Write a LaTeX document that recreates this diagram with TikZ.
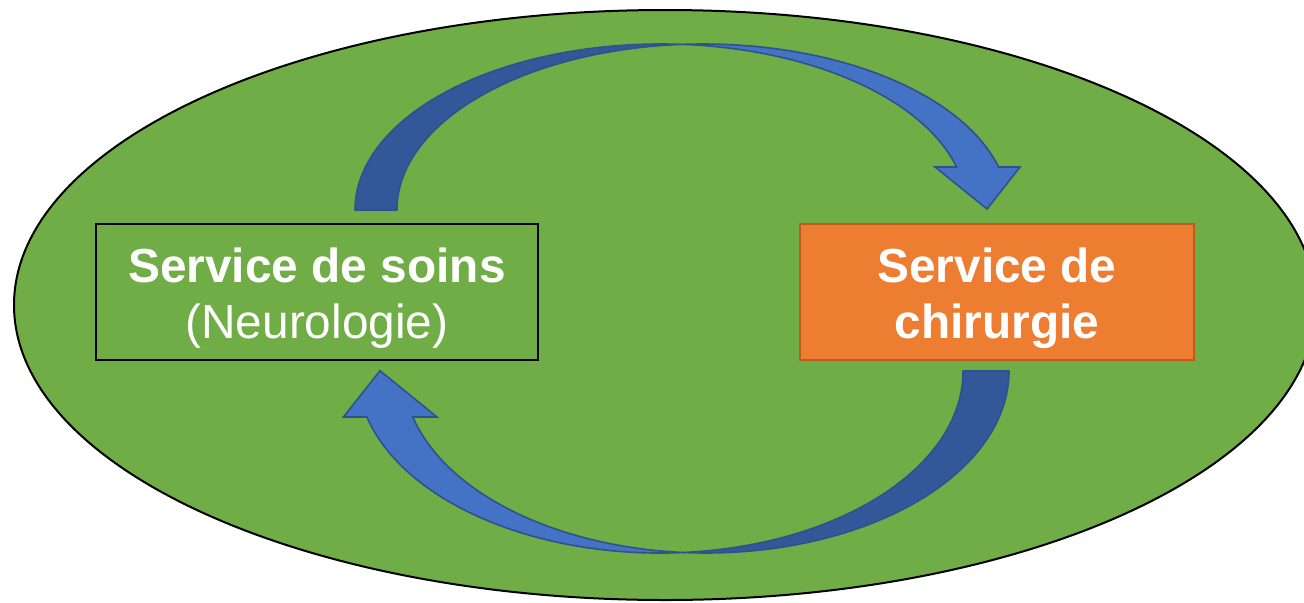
\documentclass[tikz,border=0pt]{standalone}
\usepackage{fontspec}
\setmainfont{Liberation Sans}
\usetikzlibrary{positioning}
\definecolor{fieldgreen}{RGB}{112,173,71}
\definecolor{surgorange}{RGB}{237,125,49}
\definecolor{surgedge}{RGB}{190,90,30}
\definecolor{flowlight}{RGB}{68,114,196}
\definecolor{flowdark}{RGB}{50,88,153}
\definecolor{flowedge}{RGB}{47,82,143}

\begin{document}
\begin{tikzpicture}
  [x=0.5pt,y=0.5pt,
  servicebox/.style={rectangle,inner sep=0pt,minimum height=68pt},
  soinsbox/.style={servicebox,draw=black,line width=1pt,fill=fieldgreen,minimum width=221pt},
  chirbox/.style={servicebox,draw=surgedge,line width=1.1pt,fill=surgorange,minimum width=197pt},
  servicetext/.style={align=center,text=white,inner sep=0pt,font=\fontsize{23.9}{28}\selectfont},
  backband/.style={fill=flowdark,draw=flowedge,line width=0.8pt,line join=round},
  frontband/.style={fill=flowlight,draw=flowedge,line width=0.8pt,line join=miter}]
  \useasboundingbox (0,0) rectangle (1304,602);
  \draw[fill=fieldgreen,line width=1pt] (665,297) ellipse [x radius=651,y radius=295];

  \node[soinsbox] (soins) at (317,310) {};
  \node[servicetext] (soinstext) at ([yshift=-3pt]soins.center) {\textbf{Service de soins}\\(Neurologie)};
  \node[chirbox] (chir) at (997,310) {};
  \node[servicetext] (chirtext) at ([yshift=-3pt]chir.center) {\textbf{Service de}\\\textbf{chirurgie}};

  % upper arrow
  \draw[backband] (355,392) arc[start angle=180,end angle=86.07,x radius=306,y radius=166]
    arc[start angle=93.93,end angle=180,x radius=306,y radius=166] -- cycle;
  \draw[frontband] (682,557.6) arc[start angle=93.93,end angle=15,x radius=306,y radius=166]
    -- (1020,435) -- (987,393) -- (935,435) -- (956.6,435)
    arc[start angle=15,end angle=86.07,x radius=306,y radius=166] -- cycle;

  % lower arrow
  \draw[backband] (1009,231) arc[start angle=0,end angle=-94.35,x radius=303,y radius=182]
    arc[start angle=-85.65,end angle=0,x radius=303,y radius=182] -- cycle;
  \draw[frontband] (683,49.5) arc[start angle=-85.65,end angle=-165.36,x radius=303,y radius=182]
    -- (343.4,185) -- (380,231.3) -- (437,185) -- (412.8,185)
    arc[start angle=-165.36,end angle=-94.35,x radius=303,y radius=182] -- cycle;
\end{tikzpicture}
\end{document}
